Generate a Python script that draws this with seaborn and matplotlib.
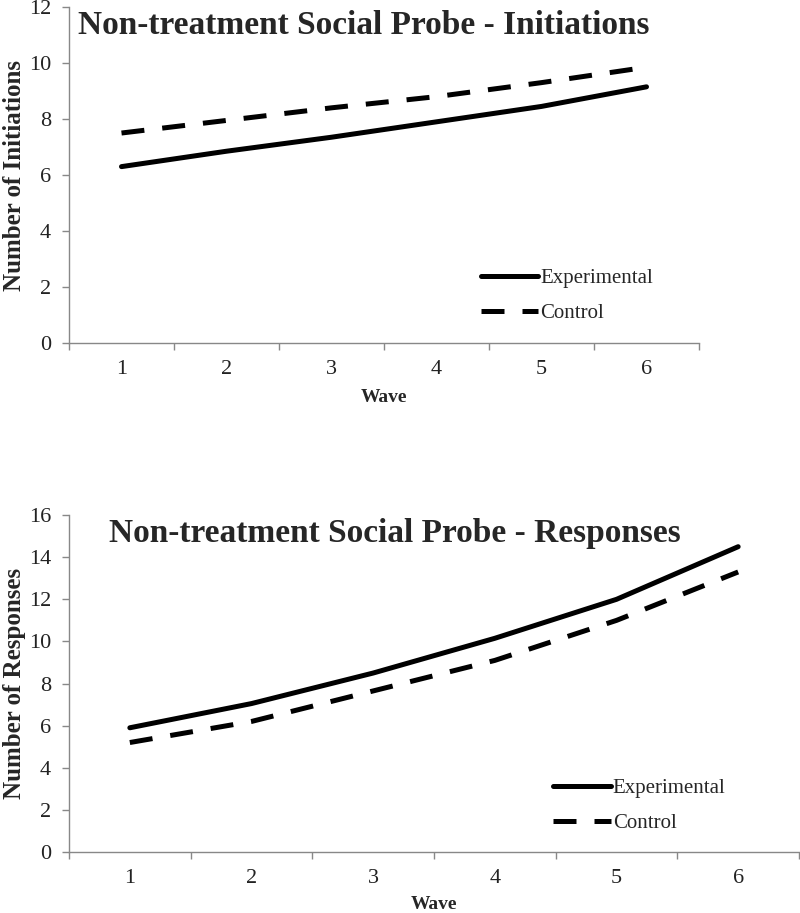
import numpy as np
import pandas as pd
import matplotlib
matplotlib.use("Agg")
import matplotlib.pyplot as plt
from matplotlib.ticker import FixedLocator
import seaborn as sns

waves = [1, 2, 3, 4, 5, 6]
groups = ["Experimental", "Control"]

init_experimental = [6.3, 6.85, 7.35, 7.9, 8.45, 9.15]
init_control = [7.5, 7.95, 8.4, 8.8, 9.3, 9.85]

resp_experimental = [5.9, 7.05, 8.5, 10.15, 12.0, 14.5]
resp_control = [5.2, 6.2, 7.65, 9.1, 11.0, 13.3]

title_init = "Non-treatment Social Probe - Initiations"
title_resp = "Non-treatment Social Probe - Responses"
ylabel_init = "Number of Initiations"
ylabel_resp = "Number of Responses"
xlabel = "Wave"

sns.set_theme(style="white")
plt.rcParams["font.family"] = ["Liberation Serif", "DejaVu Serif"]

def long_df(exp, ctl):
    return pd.DataFrame({
        "Wave": waves * 2,
        "Value": list(exp) + list(ctl),
        "Group": ["Experimental"] * len(waves) + ["Control"] * len(waves),
    })

fig = plt.figure(figsize=(8.0, 9.13), dpi=100)
ax1 = fig.add_axes([0.08625, 0.6243, 0.7875, 0.368])
ax2 = fig.add_axes([0.08625, 0.0668, 0.9125, 0.369])

LW = 3.6
dash_pat = (4.6, 3.6)

def draw(ax, df, ymax, title, ylabel, title_x, leg_anchor, ylab_x, xlab_y):
    sns.lineplot(data=df, x="Wave", y="Value", hue="Group", style="Group",
                 hue_order=groups, style_order=groups,
                 palette=["black", "black"],
                 dashes={"Experimental": "", "Control": dash_pat},
                 linewidth=LW, ax=ax, legend=True, markers=False)
    ax.set_xlim(0.5, 6.5)
    ax.set_ylim(0, ymax)
    ax.set_yticks(np.arange(0, ymax + 1, 2))
    ax.set_xticks(waves)
    ax.xaxis.set_minor_locator(FixedLocator(np.arange(0.5, 6.6, 1.0)))
    ax.tick_params(axis="x", which="major", length=0, labelsize=16, pad=12, colors="#222222")
    ax.tick_params(axis="x", which="minor", length=5, width=1, direction="out", color="#888888", bottom=True)
    ax.tick_params(axis="y", which="major", length=5, width=1, direction="out", color="#888888",
                   labelsize=16, pad=8, labelcolor="#222222", left=True)
    for s in ["top", "right"]:
        ax.spines[s].set_visible(False)
    for s in ["left", "bottom"]:
        ax.spines[s].set_color("#888888")
        ax.spines[s].set_linewidth(1)
    ax.set_xlabel(xlabel, fontsize=14, fontweight="bold")
    ax.xaxis.set_label_coords(0.5, xlab_y)
    ax.set_ylabel(ylabel, fontsize=18, fontweight="bold")
    ax.yaxis.set_label_coords(ylab_x, 0.5)
    ax.text(title_x, 0.99, title, transform=ax.transAxes, ha="center", va="top",
            fontsize=24, fontweight="bold")
    handles, labels = ax.get_legend_handles_labels()
    ax.legend(handles, labels, loc="lower left", bbox_to_anchor=leg_anchor, frameon=False,
              fontsize=15, handlelength=2.75, handletextpad=0.1, labelspacing=0.73,
              borderaxespad=0)
    ax.grid(False)

draw(ax1, long_df(init_experimental, init_control), 12, title_init, ylabel_init, 0.468,
     (0.641, 0.035), -0.068, -0.138)
draw(ax2, long_df(resp_experimental, resp_control), 16, title_resp, ylabel_resp, 0.447,
     (0.652, 0.032), -0.059, -0.130)

fig.savefig("out.png", dpi=100, facecolor="white")
